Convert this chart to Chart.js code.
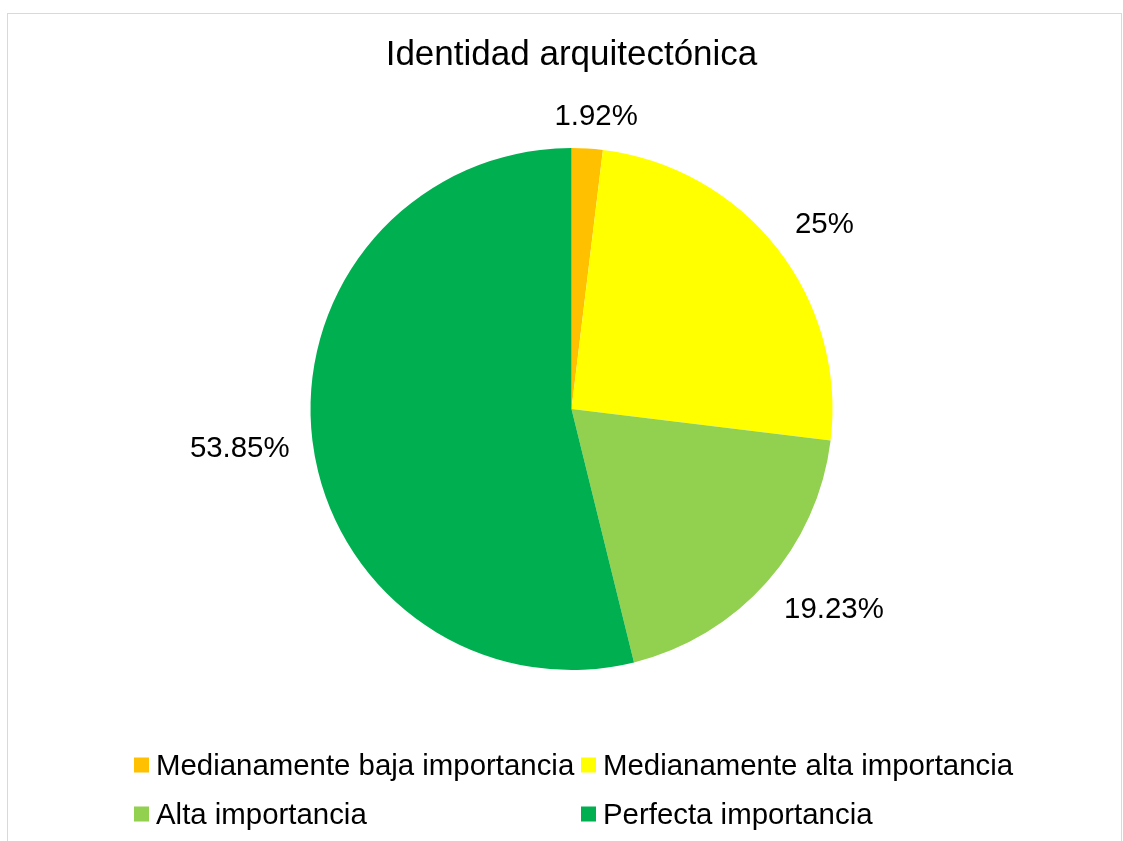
<!DOCTYPE html>
<html>
<head>
    <meta charset="UTF-8">
    <title>Identidad arquitectónica</title>
    <script src="https://cdn.jsdelivr.net/npm/chart.js"></script>
    <style>
        html, body { margin: 0; padding: 0; background: #fff; }
        #wrap { width: 1123px; height: 841px; position: relative; }
    </style>
</head>
<body>
    <div id="wrap">
        <canvas id="pie-chart" width="1123" height="841"></canvas>
    </div>
    <script>
        // datos del gráfico
        const chartTitle = 'Identidad arquitectónica';
        const categories = [
            'Medianamente baja importancia',
            'Medianamente alta importancia',
            'Alta importancia',
            'Perfecta importancia'
        ];
        const percentages = [1.92, 25, 19.23, 53.85];
        const valueLabels = ['1.92%', '25%', '19.23%', '53.85%'];
        const sliceColors = ['#FFC000', '#FFFF00', '#92D050', '#00B050'];

        const FONT = '"Liberation Sans", Arial, sans-serif';

        function clamp(v) { return Math.max(-1, Math.min(1, v)); }

        // etiquetas de datos fuera del sector (estilo Excel "extremo externo")
        const outsideLabels = {
            id: 'outsideLabels',
            afterDatasetsDraw(chart) {
                const ctx = chart.ctx;
                const meta = chart.getDatasetMeta(0);
                ctx.save();
                ctx.font = '29.4px ' + FONT;
                ctx.fillStyle = '#000';
                ctx.textAlign = 'center';
                ctx.textBaseline = 'middle';
                meta.data.forEach(function(arc, i) {
                    const p = arc.getProps(['x', 'y', 'startAngle', 'endAngle', 'outerRadius'], true);
                    const mid = (p.startAngle + p.endAngle) / 2;
                    const ux = Math.cos(mid);
                    const uy = Math.sin(mid);
                    const w = ctx.measureText(valueLabels[i]).width;
                    const gap = 23;
                    // punto en el borde + separación, luego la caja se alinea hacia fuera
                    const px = p.x + ux * (p.outerRadius + gap);
                    const py = p.y + uy * (p.outerRadius + gap);
                    const lx = px + clamp(ux * 3) * w / 2;
                    const ly = py + clamp(uy * 3) * 11 + 2;
                    ctx.fillText(valueLabels[i], lx, ly);
                });
                ctx.restore();
            }
        };

        // título, leyenda y borde
        const decorations = {
            id: 'decorations',
            afterDraw(chart) {
                const ctx = chart.ctx;
                ctx.save();
                ctx.strokeStyle = '#d9d9d9';
                ctx.lineWidth = 1;
                ctx.strokeRect(7.5, 13.5, 1114, 860);

                ctx.fillStyle = '#000';
                ctx.font = '35px ' + FONT;
                ctx.textAlign = 'center';
                ctx.textBaseline = 'middle';
                ctx.fillText(chartTitle, 571.5, 55);

                const colX = [134, 581];
                const rowY = [765, 814];
                ctx.font = '29.4px ' + FONT;
                ctx.textAlign = 'left';
                categories.forEach(function(cat, i) {
                    const x = colX[i % 2];
                    const y = rowY[Math.floor(i / 2)];
                    ctx.fillStyle = sliceColors[i];
                    ctx.fillRect(x, y - 7.5, 15, 15);
                    ctx.fillStyle = '#000';
                    ctx.fillText(cat, x + 22, y + 2);
                });
                ctx.restore();
            }
        };

        const ctx = document.getElementById('pie-chart').getContext('2d');
        const pieChart = new Chart(ctx, {
            type: 'pie',
            data: {
                labels: categories,
                datasets: [{
                    data: percentages,
                    backgroundColor: sliceColors,
                    borderWidth: 0
                }]
            },
            options: {
                responsive: false,
                animation: false,
                layout: {
                    padding: { left: 310.5, right: 290.5, top: 148, bottom: 171 }
                },
                plugins: {
                    legend: { display: false },
                    title: { display: false },
                    tooltip: { enabled: false }
                }
            },
            plugins: [outsideLabels, decorations]
        });
    </script>
</body>
</html>
